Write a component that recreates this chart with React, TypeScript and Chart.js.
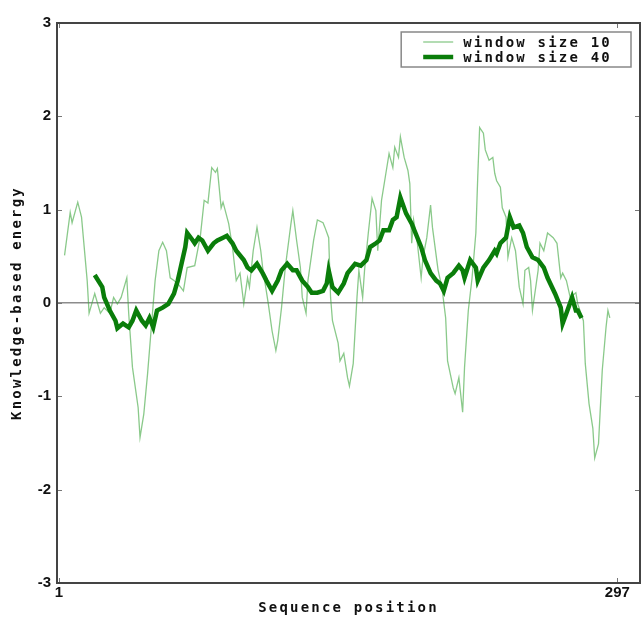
import { useEffect, useRef } from "react";
import { Chart, registerables } from "chart.js";

Chart.register(...registerables);

const thinLabel = "window size 10";
const thickLabel = "window size 40";
const xTitle = "Sequence position";
const yTitle = "Knowledge-based energy";
const xTickValues = [1, 297];
const yTickValues = [-3, -2, -1, 0, 1, 2, 3];

const thinPositions = [
  4, 7, 8, 11, 13, 16, 17, 20, 23, 25,
  28, 30, 32, 34, 37, 38, 40, 43, 44, 46,
  48, 50, 52, 54, 56, 58, 60, 62, 64, 67,
  69, 73, 76, 78, 80, 82, 84, 85, 87, 88,
  91, 93, 95, 97, 99, 101, 102, 104, 106, 108,
  109, 112, 114, 116, 117, 119, 121, 124, 125, 127,
  129, 130, 132, 133, 136, 138, 141, 142, 144, 145,
  146, 149, 150, 152, 154, 155, 157, 159, 160, 162,
  163, 165, 167, 169, 170, 172, 174, 176, 178, 179,
  181, 182, 184, 186, 187, 188, 189, 191, 193, 194,
  196, 198, 199, 202, 204, 206, 207, 210, 211, 213,
  215, 216, 218, 220, 222, 223, 224, 226, 227, 229,
  231, 232, 233, 235, 236, 238, 239, 241, 243, 245,
  247, 248, 250, 251, 252, 255, 256, 258, 260, 263,
  265, 267, 268, 270, 272, 275, 276, 279, 280, 282,
  284, 285, 287, 289, 291, 292, 293,
];
const thinEnergy = [
  0.51, 0.97, 0.86, 1.08, 0.92, 0.24, -0.11, 0.1, -0.11, -0.05,
  -0.11, 0.06, -0.01, 0.06, 0.27, -0.11, -0.69, -1.12, -1.44, -1.19,
  -0.76, -0.26, 0.24, 0.56, 0.65, 0.56, 0.27, 0.24, 0.21, 0.13,
  0.38, 0.4, 0.72, 1.1, 1.07, 1.45, 1.4, 1.44, 1.02, 1.08,
  0.85, 0.6, 0.24, 0.32, -0.01, 0.27, 0.17, 0.56, 0.81, 0.56,
  0.38, -0.01, -0.3, -0.51, -0.4, -0.05, 0.38, 0.85, 0.99, 0.67,
  0.38, 0.06, -0.11, 0.24, 0.67, 0.89, 0.86, 0.81, 0.7, 0.06,
  -0.19, -0.43, -0.62, -0.54, -0.8, -0.89, -0.65, 0.06, 0.35, 0.06,
  0.35, 0.75, 1.12, 0.99, 0.56, 1.1, 1.35, 1.6, 1.45, 1.67,
  1.56, 1.78, 1.56, 1.42, 1.28, 0.64, 0.89, 0.64, 0.27, 0.49,
  0.7, 1.05, 0.81, 0.35, 0.17, -0.16, -0.62, -0.91, -0.97, -0.8,
  -1.17, -0.69, -0.08, 0.27, 0.75, 1.35, 1.88, 1.82, 1.64, 1.53,
  1.56, 1.39, 1.31, 1.24, 1.02, 0.92, 0.49, 0.7, 0.56, 0.17,
  -0.01, 0.35, 0.38, 0.24, -0.08, 0.35, 0.64, 0.56, 0.75, 0.7,
  0.64, 0.27, 0.32, 0.24, 0.06, 0.11, -0.01, -0.19, -0.65, -1.08,
  -1.34, -1.66, -1.51, -0.72, -0.26, -0.08, -0.16,
];

const thickPositions = [
  20, 24, 25, 28, 31, 32, 35, 38, 40, 42,
  45, 47, 49, 51, 53, 56, 59, 62, 64, 66,
  68, 69, 72, 73, 75, 77, 80, 83, 85, 88,
  90, 93, 95, 99, 101, 103, 106, 109, 111, 114,
  117, 119, 122, 125, 127, 130, 133, 135, 138, 141,
  143, 144, 146, 149, 152, 154, 158, 161, 164, 166,
  169, 171, 173, 176, 178, 180, 182, 185, 188, 190,
  193, 195, 198, 201, 203, 205, 207, 210, 213, 215,
  216, 219, 222, 223, 226, 229, 232, 233, 235, 238,
  240, 242, 245, 247, 249, 252, 255, 258, 260, 264,
  267, 268, 270, 273, 275, 276, 278,
];
const thickEnergy = [
  0.3, 0.17, 0.06, -0.08, -0.19, -0.27, -0.22, -0.26, -0.19, -0.08,
  -0.19, -0.24, -0.16, -0.26, -0.08, -0.05, -0.01, 0.1, 0.24, 0.42,
  0.6, 0.75, 0.67, 0.64, 0.7, 0.67, 0.56, 0.64, 0.67, 0.7,
  0.72, 0.64, 0.56, 0.46, 0.38, 0.35, 0.42, 0.32, 0.24, 0.13,
  0.24, 0.35, 0.42, 0.35, 0.35, 0.24, 0.17, 0.11, 0.11, 0.13,
  0.21, 0.35, 0.17, 0.11, 0.21, 0.32, 0.42, 0.4, 0.46, 0.6,
  0.64, 0.67, 0.78, 0.78, 0.89, 0.92, 1.13, 0.96, 0.85, 0.75,
  0.6, 0.46, 0.32, 0.24, 0.21, 0.13, 0.27, 0.32, 0.4, 0.35,
  0.27, 0.46, 0.38, 0.24, 0.38, 0.46, 0.56, 0.53, 0.64, 0.7,
  0.92, 0.81, 0.83, 0.75, 0.6, 0.49, 0.46, 0.38, 0.27, 0.1,
  -0.05, -0.22, -0.11, 0.06, -0.08, -0.08, -0.16,
];

const toPoints = (xs: number[], ys: number[]) =>
  xs.map((x, i) => ({ x, y: ys[i] }));

const monoFont = "'DejaVu Sans Mono', 'Liberation Mono', monospace";
const sansFont = "'Liberation Sans', Arial, sans-serif";

const framePlugin = {
  id: "frameAndLegend",
  beforeDraw(chart: any) {
    const ctx = chart.ctx;
    Object.values(chart.scales).forEach((s: any) => {
      if (!s.__patched) {
        const orig = s.drawTitle.bind(s);
        s.drawTitle = () => {
          ctx.save();
          (ctx as any).letterSpacing = "2.2px";
          orig();
          ctx.restore();
        };
        s.__patched = true;
      }
    });
  },
  afterDraw(chart: any) {
    const { ctx, chartArea: a, scales } = chart;
    ctx.save();
    const seg = (x1: number, y1: number, x2: number, y2: number) => {
      ctx.beginPath();
      ctx.moveTo(x1, y1);
      ctx.lineTo(x2, y2);
      ctx.stroke();
    };
    ctx.strokeStyle = "#777";
    ctx.lineWidth = 1;
    for (const v of yTickValues) {
      const y = Math.round(scales.y.getPixelForValue(v)) + 0.5;
      seg(a.left, y, a.left + 5, y);
      seg(a.right - 5, y, a.right, y);
    }
    for (const v of xTickValues) {
      const x = Math.round(scales.x.getPixelForValue(v)) + 0.5;
      seg(x, a.bottom, x, a.bottom - 5);
      seg(x, a.top, x, a.top + 5);
    }
    ctx.strokeStyle = "#444";
    ctx.lineWidth = 2;
    ctx.strokeRect(a.left, a.top, a.right - a.left, a.bottom - a.top);

    // legend box
    ctx.font = `bold 14px ${monoFont}`;
    (ctx as any).letterSpacing = "2.2px";
    const ds = chart.data.datasets;
    const textW = Math.max(...ds.map((d: any) => ctx.measureText(d.label).width));
    const padL = 22, lineLen = 30, gap = 10, padR = 19;
    const boxW = padL + lineLen + gap + textW + padR;
    const boxH = 35;
    const boxX = a.right - 9 - boxW;
    const boxY = a.top + 9;
    ctx.fillStyle = "#fff";
    ctx.fillRect(boxX, boxY, boxW, boxH);
    ctx.strokeStyle = "#888";
    ctx.lineWidth = 1.5;
    ctx.strokeRect(boxX, boxY, boxW, boxH);
    ds.forEach((d: any, i: number) => {
      const cy = boxY + 10 + i * 15;
      ctx.strokeStyle = d.borderColor;
      ctx.lineWidth = d.borderWidth;
      seg(boxX + padL, cy, boxX + padL + lineLen, cy);
      ctx.fillStyle = "#111";
      ctx.textBaseline = "middle";
      ctx.textAlign = "left";
      ctx.fillText(d.label, boxX + padL + lineLen + gap, cy + 1);
    });
    ctx.restore();
  },
};

export default function App() {
  const ref = useRef<HTMLCanvasElement | null>(null);
  useEffect(() => {
    if (!ref.current) return;
    const chart = new Chart(ref.current, {
      type: "line",
      data: {
        datasets: [
          {
            label: thinLabel,
            data: toPoints(thinPositions, thinEnergy),
            borderColor: "rgba(60,165,60,0.6)",
            borderWidth: 1.3,
            pointRadius: 0,
            tension: 0,
            order: 1,
          },
          {
            label: thickLabel,
            data: toPoints(thickPositions, thickEnergy),
            borderColor: "#0a7d0a",
            borderWidth: 4.5,
            pointRadius: 0,
            tension: 0,
            order: 0,
          },
        ],
      },
      options: {
        responsive: false,
        animation: false,
        layout: { padding: { top: 23, right: 3, left: 0, bottom: 0 } },
        plugins: { legend: { display: false }, tooltip: { enabled: false } },
        scales: {
          x: {
            type: "linear",
            min: 0,
            max: 309,
            afterBuildTicks: (s: any) => {
              s.ticks = xTickValues.map((v) => ({ value: v }));
            },
            afterFit: (s: any) => {
              s.height = 36;
            },
            grid: { display: false, drawTicks: false },
            border: { display: false },
            ticks: {
              autoSkip: false,
              maxRotation: 0,
              padding: 1,
              color: "#111",
              font: { family: sansFont, weight: "bold", size: 15 },
              callback: (v: any) => String(v),
            },
            title: {
              display: true,
              text: xTitle,
              color: "#111",
              font: { family: monoFont, weight: "bold", size: 14 },
              padding: { top: 0, bottom: 2 },
            },
          },
          y: {
            type: "linear",
            min: -3,
            max: 3,
            afterBuildTicks: (s: any) => {
              s.ticks = yTickValues.map((v) => ({ value: v }));
            },
            afterFit: (s: any) => {
              s.width = 57;
            },
            grid: {
              drawTicks: false,
              lineWidth: 1.5,
              color: (c: any) =>
                c.tick && c.tick.value === 0 ? "#8c8c8c" : "rgba(0,0,0,0)",
            },
            border: { display: false },
            ticks: {
              padding: 6,
              color: "#111",
              font: { family: sansFont, weight: "bold", size: 15 },
            },
            title: {
              display: true,
              text: yTitle,
              color: "#111",
              font: { family: monoFont, weight: "bold", size: 14 },
              padding: { top: 9, bottom: 0 },
            },
          },
        },
      },
      plugins: [framePlugin],
    });
    return () => chart.destroy();
  }, []);
  return (
    <canvas
      ref={ref}
      width={643}
      height={619}
      style={{ position: "fixed", left: 0, top: 0, display: "block", background: "#fff" }}
    />
  );
}
